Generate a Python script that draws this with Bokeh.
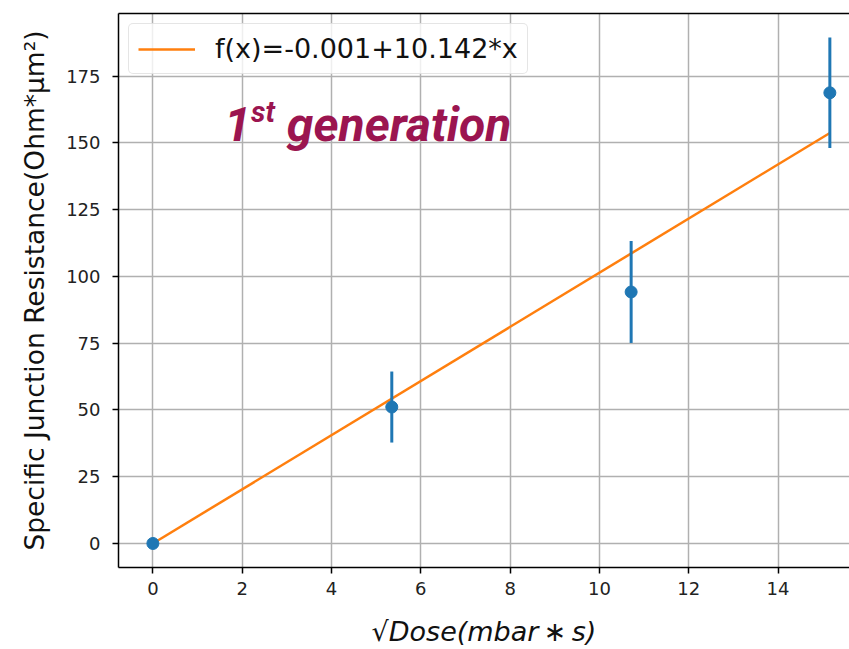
from bokeh.plotting import figure
from bokeh.models import (Range1d, LinearAxis, FixedTicker, Label, Legend, LegendItem,
                          ColumnDataSource)
from bokeh.embed import file_html
from bokeh.resources import INLINE

# ---- data ----
dose_sqrt = [0.0, 5.35, 10.71, 15.16]
resistance = [0.0, 51.1, 94.2, 168.8]
resistance_err = [0.0, 13.3, 19.1, 20.7]

fit_x = [0.0, 15.16]
fit_y = [-0.001, 153.75]
fit_label = "f(x)=-0.001+10.142*x"

x_ticks = [0, 2, 4, 6, 8, 10, 12, 14]
y_ticks = [0, 25, 50, 75, 100, 125, 150, 175]

BLUE = "#1f77b4"
ORANGE = "#ff7f0e"
ANNOT = "#9b1550"
FONT = "DejaVu Sans"

p = figure(width=849, height=649, output_backend="svg", toolbar_location=None,
           x_range=Range1d(-0.77, 15.60), y_range=Range1d(-9.0, 198.5),
           min_border_left=118, min_border_right=0, min_border_top=13,
           min_border_bottom=81)

p.background_fill_color = "white"
p.border_fill_color = "white"
p.outline_line_color = None

# grid
p.xgrid.ticker = FixedTicker(ticks=x_ticks)
p.ygrid.ticker = FixedTicker(ticks=y_ticks)
for g in (p.xgrid, p.ygrid):
    g.grid_line_color = "#b0b0b0"
    g.grid_line_width = 1.5

# axes
p.xaxis.ticker = FixedTicker(ticks=x_ticks)
p.yaxis.ticker = FixedTicker(ticks=y_ticks)
for ax in (p.xaxis, p.yaxis):
    ax.axis_line_color = "black"
    ax.axis_line_width = 1.5
    ax.major_tick_line_color = "black"
    ax.major_tick_line_width = 1.5
    ax.major_tick_out = 6
    ax.major_tick_in = 0
    ax.minor_tick_line_color = None
    ax.major_label_text_font = FONT
    ax.major_label_text_font_size = "18px"
    ax.major_label_text_color = "#222222"
    ax.axis_label_text_font = FONT
    ax.axis_label_text_color = "#111111"

p.yaxis.major_label_standoff = 12
p.xaxis.major_label_standoff = 8
p.yaxis.axis_label = "Specific Junction Resistance(Ohm*μm²)"
p.yaxis.axis_label_text_font_size = "26.5px"
p.yaxis.axis_label_text_font_style = "normal"
p.yaxis.axis_label_standoff = 13
p.xaxis.axis_label = "√Dose(mbar\u2009\u2217\u2009s)"
p.xaxis.axis_label_text_font_size = "27px"
p.xaxis.axis_label_text_font_style = "italic"
p.xaxis.axis_label_standoff = 18

# top spine
top = LinearAxis(ticker=FixedTicker(ticks=[]), axis_line_color="black",
                 axis_line_width=1.5, major_label_text_font_size="0px",
                 major_tick_line_color=None, minor_tick_line_color=None)
p.add_layout(top, "above")

# data
src = ColumnDataSource(dict(
    x=dose_sqrt, y=resistance,
    lo=[v - e for v, e in zip(resistance, resistance_err)],
    hi=[v + e for v, e in zip(resistance, resistance_err)],
))
fit_r = p.line(fit_x, fit_y, line_color=ORANGE, line_width=2.5)
p.segment(x0="x", y0="lo", x1="x", y1="hi", source=src, line_color=BLUE, line_width=3)
p.scatter(x="x", y="y", source=src, size=12, fill_color=BLUE, line_color=BLUE)

legend = Legend(items=[LegendItem(label=fit_label, renderers=[fit_r])],
                location="top_left")
legend.label_text_font = FONT
legend.label_text_font_size = "27px"
legend.label_text_color = "#111111"
legend.glyph_width = 57
legend.label_standoff = 20
legend.padding = 9
legend.margin = 10
legend.border_line_color = "#cccccc"
legend.border_line_width = 1
legend.border_radius = 5
legend.background_fill_alpha = 0.8
p.add_layout(legend)

# annotation
p.add_layout(Label(x=1.6, y=157.0, text="1", text_font="Roboto", text_font_size="48px",
                   text_font_style="bold italic", text_color=ANNOT,
                   text_baseline="alphabetic", text_align="left"))
p.add_layout(Label(x=2.2, y=161.5, text="st", text_font="Roboto", text_font_size="29px",
                   text_font_style="bold italic", text_color=ANNOT,
                   text_baseline="alphabetic", text_align="left"))
p.add_layout(Label(x=3.0, y=157.0, text="generation", text_font="Roboto",
                   text_font_size="48px", text_font_style="bold italic", text_color=ANNOT,
                   text_baseline="alphabetic", text_align="left"))

open("out.html", "w").write(file_html(p, INLINE))
